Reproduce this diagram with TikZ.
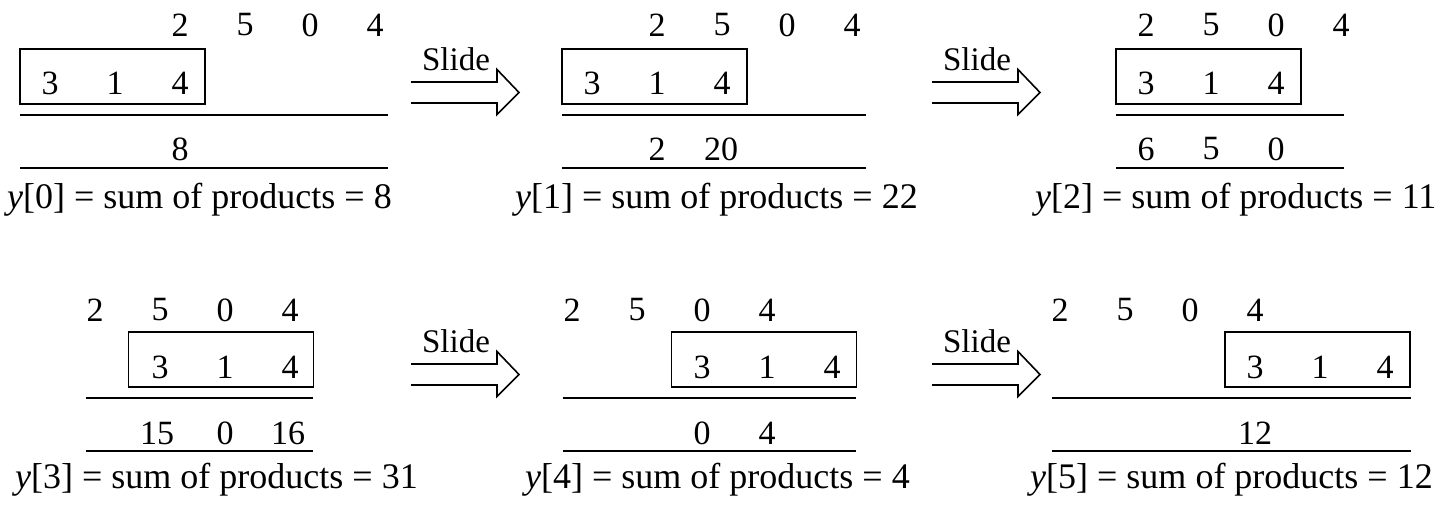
\documentclass[tikz,border=0pt]{standalone}
\usepackage{fontspec}
\setmainfont{Liberation Serif}
\begin{document}
\begin{tikzpicture}[x=1pt,y=-1pt,
  dig/.style={inner sep=0pt, font=\fontsize{34}{38}\selectfont},
  lbl/.style={inner sep=0pt, anchor=base west, font=\fontsize{36}{40}\selectfont},
  kbox/.style={draw, line width=1.6pt, minimum width=185pt, minimum height=55pt, inner sep=0pt},
  rule/.style={line width=1.8pt},
  arrowline/.style={line width=1.6pt, line join=miter},
  slidetxt/.style={inner sep=0pt, anchor=base, font=\fontsize{33}{37}\selectfont},
  slidearrow/.pic={
    \draw[arrowline] (0,-10.5) -- (86,-10.5) -- (86,-23) -- (108,0) -- (86,22) -- (86,10.5) -- (0,10.5);
    \node[slidetxt] (-txt) at (45,-22.5) {Slide};
  }
]
\useasboundingbox (0,0) rectangle (1448,504);

% ---------- Panel 1 ----------
\node[dig] (p1a) at (180,25) {2};
\node[dig] (p1b) at (245,25) {5};
\node[dig] (p1c) at (310,25) {0};
\node[dig] (p1d) at (375,25) {4};
\node[kbox] (p1box) at (112.5,76.5) {};
\node[dig] (p1k1) at (50,83) {3};
\node[dig] (p1k2) at (115,83) {1};
\node[dig] (p1k3) at (180,83) {4};
\coordinate (p1r1l) at (20,115); \coordinate (p1r1r) at (388,115);
\coordinate (p1r2l) at (20,168); \coordinate (p1r2r) at (388,168);
\draw[rule] (p1r1l) -- (p1r1r);
\draw[rule] (p1r2l) -- (p1r2r);
\node[dig] (p1s1) at (180,149) {8};
\node[lbl] (p1lab) at (7,208) {\textit{y}[0] = sum of products = 8};

% ---------- Arrow 1 ----------
\pic (ar1) at (411,92.5) {slidearrow};

% ---------- Panel 2 ----------
\node[dig] (p2a) at (657,25) {2};
\node[dig] (p2b) at (722,25) {5};
\node[dig] (p2c) at (787,25) {0};
\node[dig] (p2d) at (852,25) {4};
\node[kbox] (p2box) at (654.5,76.5) {};
\node[dig] (p2k1) at (592,83) {3};
\node[dig] (p2k2) at (657,83) {1};
\node[dig] (p2k3) at (722,83) {4};
\coordinate (p2r1l) at (562,115); \coordinate (p2r1r) at (866,115);
\coordinate (p2r2l) at (562,168); \coordinate (p2r2r) at (866,168);
\draw[rule] (p2r1l) -- (p2r1r);
\draw[rule] (p2r2l) -- (p2r2r);
\node[dig] (p2s1) at (657,149) {2};
\node[dig] (p2s2) at (721,149) {20};
\node[lbl] (p2lab) at (515,208) {\textit{y}[1] = sum of products = 22};

% ---------- Arrow 2 ----------
\pic (ar2) at (932,92.5) {slidearrow};

% ---------- Panel 3 ----------
\node[dig] (p3a) at (1146,25) {2};
\node[dig] (p3b) at (1211,25) {5};
\node[dig] (p3c) at (1276,25) {0};
\node[dig] (p3d) at (1341,25) {4};
\node[kbox] (p3box) at (1208.5,76.5) {};
\node[dig] (p3k1) at (1146,83) {3};
\node[dig] (p3k2) at (1211,83) {1};
\node[dig] (p3k3) at (1276,83) {4};
\coordinate (p3r1l) at (1116,115); \coordinate (p3r1r) at (1344,115);
\coordinate (p3r2l) at (1116,168); \coordinate (p3r2r) at (1344,168);
\draw[rule] (p3r1l) -- (p3r1r);
\draw[rule] (p3r2l) -- (p3r2r);
\node[dig] (p3s1) at (1146,149) {6};
\node[dig] (p3s2) at (1211,149) {5};
\node[dig] (p3s3) at (1276,149) {0};
\node[lbl] (p3lab) at (1035,208) {\textit{y}[2] = sum of products = 11};

% ---------- Panel 4 ----------
\node[dig] (p4a) at (95,310) {2};
\node[dig] (p4b) at (160,310) {5};
\node[dig] (p4c) at (225,310) {0};
\node[dig] (p4d) at (290,310) {4};
\node[kbox] (p4box) at (221,359.5) {};
\node[dig] (p4k1) at (160,367) {3};
\node[dig] (p4k2) at (225,367) {1};
\node[dig] (p4k3) at (290,367) {4};
\coordinate (p4r1l) at (86,398); \coordinate (p4r1r) at (313,398);
\coordinate (p4r2l) at (86,451); \coordinate (p4r2r) at (313,451);
\draw[rule] (p4r1l) -- (p4r1r);
\draw[rule] (p4r2l) -- (p4r2r);
\node[dig] (p4s1) at (157,433) {15};
\node[dig] (p4s2) at (225,433) {0};
\node[dig] (p4s3) at (288,433) {16};
\node[lbl] (p4lab) at (15,488) {\textit{y}[3] = sum of products = 31};

% ---------- Arrow 3 ----------
\pic (ar3) at (411,374.5) {slidearrow};

% ---------- Panel 5 ----------
\node[dig] (p5a) at (572,310) {2};
\node[dig] (p5b) at (637,310) {5};
\node[dig] (p5c) at (702,310) {0};
\node[dig] (p5d) at (767,310) {4};
\node[kbox] (p5box) at (764,359.5) {};
\node[dig] (p5k1) at (702,367) {3};
\node[dig] (p5k2) at (767,367) {1};
\node[dig] (p5k3) at (832,367) {4};
\coordinate (p5r1l) at (563,398); \coordinate (p5r1r) at (856,398);
\coordinate (p5r2l) at (563,451); \coordinate (p5r2r) at (856,451);
\draw[rule] (p5r1l) -- (p5r1r);
\draw[rule] (p5r2l) -- (p5r2r);
\node[dig] (p5s1) at (702,433) {0};
\node[dig] (p5s2) at (767,433) {4};
\node[lbl] (p5lab) at (525,488) {\textit{y}[4] = sum of products = 4};

% ---------- Arrow 4 ----------
\pic (ar4) at (932,374.5) {slidearrow};

% ---------- Panel 6 ----------
\node[dig] (p6a) at (1060,310) {2};
\node[dig] (p6b) at (1125,310) {5};
\node[dig] (p6c) at (1190,310) {0};
\node[dig] (p6d) at (1255,310) {4};
\node[kbox] (p6box) at (1317.5,359.5) {};
\node[dig] (p6k1) at (1255,367) {3};
\node[dig] (p6k2) at (1320,367) {1};
\node[dig] (p6k3) at (1385,367) {4};
\coordinate (p6r1l) at (1052,398); \coordinate (p6r1r) at (1411,398);
\coordinate (p6r2l) at (1052,451); \coordinate (p6r2r) at (1411,451);
\draw[rule] (p6r1l) -- (p6r1r);
\draw[rule] (p6r2l) -- (p6r2r);
\node[dig] (p6s1) at (1255,433) {12};
\node[lbl] (p6lab) at (1030,488) {\textit{y}[5] = sum of products = 12};
\end{tikzpicture}
\end{document}
